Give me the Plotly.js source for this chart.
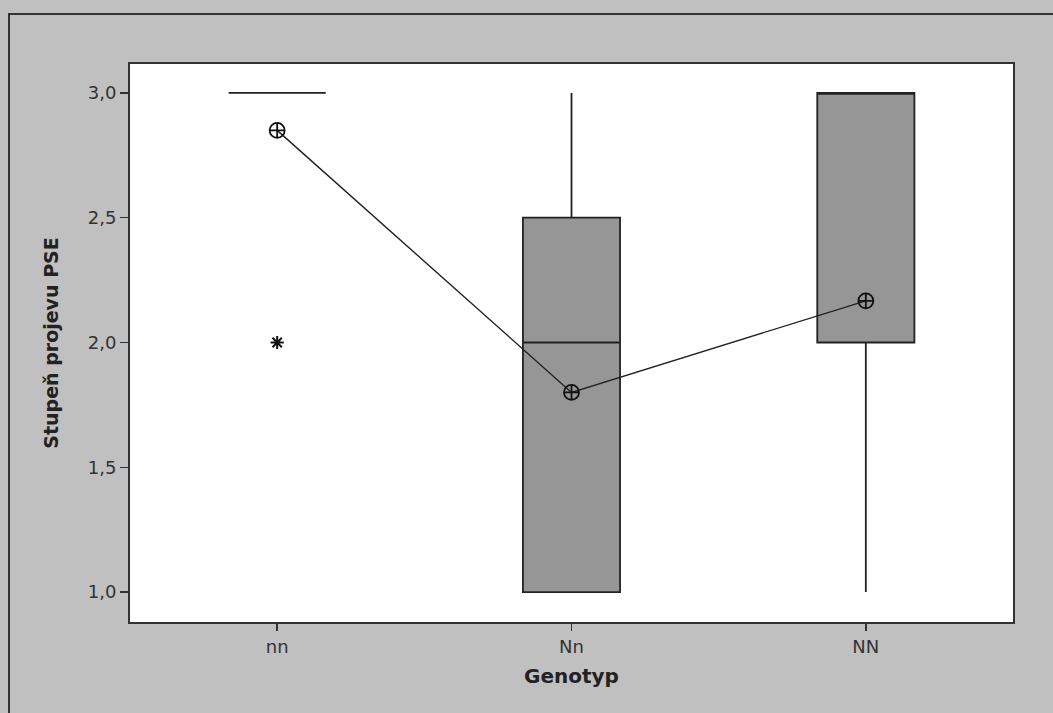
<!DOCTYPE html>
<html><head><meta charset="utf-8">
<script src="https://cdn.plot.ly/plotly-3.0.1.min.js"></script>
<style>
html,body{margin:0;padding:0;background:#c0c0c0;}
#wrap{position:relative;width:1053px;height:713px;overflow:hidden;}
#chart{position:absolute;left:0;top:0;width:1053px;height:713px;}
#frame{position:absolute;left:8px;top:13px;width:1100px;height:800px;border-left:2px solid #333;border-top:2px solid #333;pointer-events:none;}
</style></head>
<body><div id="wrap"><div id="chart"></div><div id="frame"></div></div>
<script>
const categories = ['nn','Nn','NN'];
const q1 = [3, 1, 2];
const median = [3, 2, 3];
const q3 = [3, 2.5, 3];
const lowerWhisker = [3, 1, 1];
const upperWhisker = [3, 3, 3];
const means = [2.85, 1.8, 2.167];
const outlierCats = ['nn'];
const outlierVals = [2];
const yTicks = [1.0, 1.5, 2.0, 2.5, 3.0];

const boxTrace = {
  type:'box', x:categories, q1:q1, median:median, q3:q3,
  lowerfence:lowerWhisker, upperfence:upperWhisker,
  fillcolor:'#969696', line:{color:'#222', width:1.8},
  whiskerwidth:0, width:0.33, boxpoints:false, hoverinfo:'skip', showlegend:false
};
const meanTrace = {
  type:'scatter', mode:'lines+markers', x:categories, y:means,
  line:{color:'#222', width:1.4},
  marker:{symbol:'circle-cross-open', size:15, color:'#111', line:{width:1.8, color:'#111'}},
  showlegend:false, hoverinfo:'skip'
};
const outTrace = {
  type:'scatter', mode:'markers', x:outlierCats, y:outlierVals,
  marker:{symbol:'asterisk-open', size:11, color:'#111', line:{width:2, color:'#111'}},
  showlegend:false, hoverinfo:'skip'
};
const layout = {
  width:1053, height:713,
  margin:{l:130, r:40, t:64, b:91},
  paper_bgcolor:'rgba(0,0,0,0)', plot_bgcolor:'#ffffff',
  separators:',.',
  font:{family:'DejaVu Sans, Verdana, sans-serif', color:'#333', size:18},
  xaxis:{type:'category', categoryorder:'array', categoryarray:categories,
    range:[-0.5,2.5], showline:true, mirror:true, linecolor:'#333', linewidth:2,
    ticks:'outside', ticklen:7, tickcolor:'#333', tickwidth:1.5, showgrid:false, zeroline:false,
    tickfont:{size:18, color:'#333'},
    title:{text:'<b>Genotyp</b>', font:{size:20, color:'#222'}, standoff:13}},
  yaxis:{range:[0.88,3.116], tickvals:yTicks, tickformat:'.1f',
    showline:true, mirror:true, linecolor:'#333', linewidth:2,
    ticks:'outside', ticklen:8, tickcolor:'#333', tickwidth:1.5, showgrid:false, zeroline:false,
    tickfont:{size:18, color:'#333'},
    title:{text:'<b>Stupeň projevu PSE</b>', font:{size:19, color:'#222'}, standoff:24}}
};
Plotly.newPlot('chart', [boxTrace, meanTrace, outTrace], layout, {displayModeBar:false, staticPlot:true});
</script></body></html>
